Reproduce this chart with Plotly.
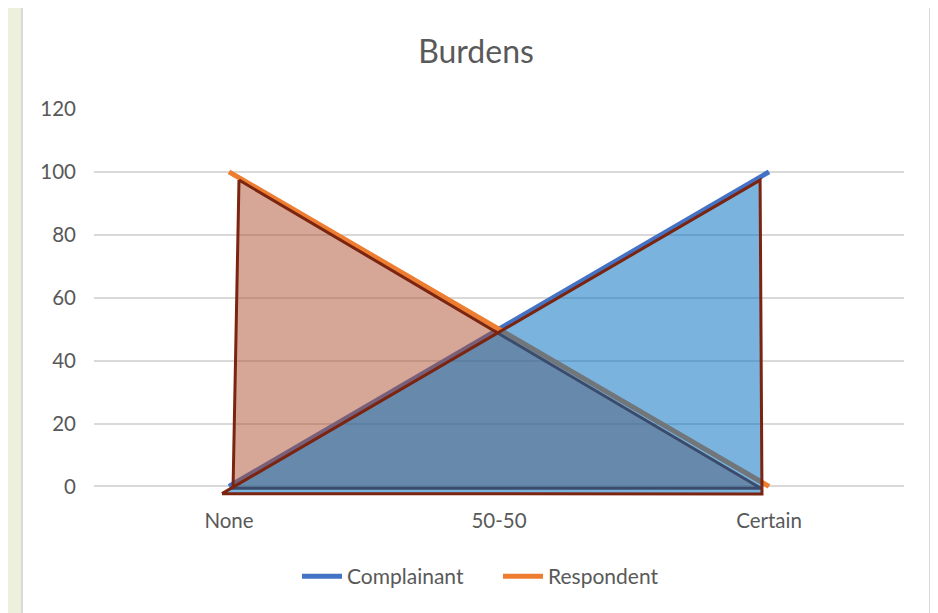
import plotly.graph_objects as go

# ---- data ----
categories = ["None", "50-50", "Certain"]
complainant = [0, 50, 100]
respondent = [100, 50, 0]
y_ticks = [0, 20, 40, 60, 80, 100, 120]

# overlay triangles (in axis units: x = category index, y = value)
red_tri_x = [0.037, 0.015, 1.970, 0.037]
red_tri_y = [97.4, -0.6, -0.6, 97.4]
blue_tri_x = [-0.026, 1.967, 1.974, -0.026]
blue_tri_y = [-2.3, 97.4, -2.4, -2.3]

FONT = "Lato"
GREY = "#595959"
OUTLINE = "#7B2410"

x_idx = list(range(len(categories)))

fig = go.Figure()
fig.add_trace(go.Scatter(x=x_idx, y=complainant, mode="lines", name="Complainant",
                         line=dict(color="#4472C4", width=5)))
fig.add_trace(go.Scatter(x=x_idx, y=respondent, mode="lines", name="Respondent",
                         line=dict(color="#ED7D31", width=5)))
fig.add_trace(go.Scatter(x=red_tri_x, y=red_tri_y, mode="lines", fill="toself",
                         fillcolor="rgba(174,78,48,0.5)", line=dict(color=OUTLINE, width=3),
                         showlegend=False, hoverinfo="skip"))
fig.add_trace(go.Scatter(x=blue_tri_x, y=blue_tri_y, mode="lines", fill="toself",
                         fillcolor="rgba(0,112,192,0.52)", line=dict(color=OUTLINE, width=3),
                         showlegend=False, hoverinfo="skip"))

OFF = 8  # page body margin
W, H = 938 - OFF, 613 - OFF
ml, mt = 94 - OFF, 109 - OFF
mr = W - (904 - OFF)
plot_w = W - ml - mr
plot_h = 124 * 3.1417
mb = H - mt - plot_h

def px_x(p):  # screen px -> paper
    return (p - OFF - ml) / plot_w

def px_y(p):
    return (mt + plot_h - (p - OFF)) / plot_h

fig.update_layout(
    width=W, height=H,
    margin=dict(l=ml, r=mr, t=mt, b=mb, pad=0),
    paper_bgcolor="#EEF0DE",
    plot_bgcolor="white",
    font=dict(family=FONT, color=GREY, size=20),
    title=dict(text="Burdens", x=(476 - OFF) / W, xref="container", xanchor="center",
               y=1 - (52 - OFF) / H, yref="container", yanchor="middle",
               font=dict(family=FONT, size=32, color=GREY)),
    showlegend=True,
    legend=dict(orientation="h", x=px_x(297), xanchor="left", y=px_y(576), yanchor="middle",
                font=dict(family=FONT, size=21, color=GREY), bgcolor="rgba(0,0,0,0)",
                itemwidth=40, entrywidth=146, entrywidthmode="pixels"),
    shapes=[dict(type="rect", xref="paper", yref="paper", layer="below",
                 x0=px_x(22), x1=px_x(930), y0=px_y(650), y1=px_y(5),
                 fillcolor="white", line=dict(color="#D9D9D9", width=2))],
)
fig.update_xaxes(range=[-0.5, 2.5], tickvals=x_idx, ticktext=categories, showgrid=False,
                 zeroline=False, showline=False, ticks="", ticklabelstandoff=7,
                 tickfont=dict(family=FONT, size=20.5, color=GREY))
fig.update_yaxes(range=[-4, 120], tickvals=y_ticks, showgrid=True, gridcolor="#D9D9D9",
                 gridwidth=1.5, zeroline=False, showline=False, ticks="",
                 ticklabelstandoff=17, tickfont=dict(family=FONT, size=20.5, color=GREY))

fig.write_html("out.html")
